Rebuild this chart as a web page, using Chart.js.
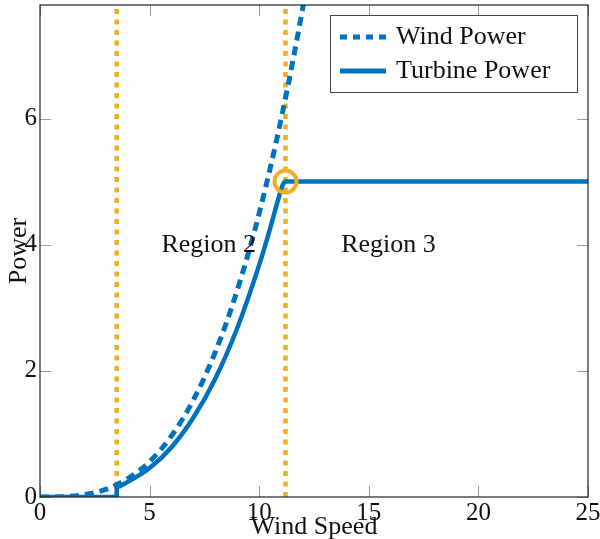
<!DOCTYPE html>
<html>
<head>
<meta charset="utf-8">
<script src="https://cdn.jsdelivr.net/npm/chart.js@4"></script>
<style>
  html, body { margin: 0; padding: 0; background: #fff; }
</style>
</head>
<body>
<canvas id="powerChart" width="600" height="539"></canvas>
<script>
// wind speed / power readings
const windSpeed = [0, 1, 2, 3, 4, 5, 6, 7, 8, 9, 10, 11, 12, 12.3];
const windPower = [0, 0.005, 0.036, 0.12, 0.29, 0.56, 0.97, 1.54, 2.3, 3.28, 4.5, 5.99, 7.78, 8.4];

const turbineSpeed = [0, 3.5, 3.5, 4, 5, 6, 7, 8, 9, 10, 10.5, 10.9, 11.05, 11.2, 25];
const turbinePower = [0, 0, 0.16, 0.24, 0.46, 0.79, 1.26, 1.88, 2.68, 3.68, 4.26, 4.76, 4.93, 5.0, 5.0];

const cutInSpeed = 3.5;
const ratedSpeed = 11.2;
const ratedPower = 5;

const xTicks = [0, 5, 10, 15, 20, 25];
const yTicks = [0, 2, 4, 6];
const yMax = 7.8;

const blue = "#0072BD";
const orange = "#EDB120";
const serif = '"Liberation Serif", "DejaVu Serif", serif';

const toPoints = (xs, ys) => xs.map((x, i) => ({ x: x, y: ys[i] }));

const framePlugin = {
  id: "frame",
  beforeDatasetsDraw(chart) {
    const { ctx, chartArea: a, scales } = chart;
    ctx.save();
    ctx.strokeStyle = "#9a9a9a";
    ctx.lineWidth = 1;
    xTicks.forEach((v) => {
      const px = Math.round(scales.x.getPixelForValue(v)) + 0.5;
      ctx.beginPath();
      ctx.moveTo(px, a.bottom);
      ctx.lineTo(px, a.bottom - 11);
      ctx.moveTo(px, a.top);
      ctx.lineTo(px, a.top + 11);
      ctx.stroke();
    });
    yTicks.forEach((v) => {
      const py = Math.round(scales.y.getPixelForValue(v)) + 0.5;
      ctx.beginPath();
      ctx.moveTo(a.left, py);
      ctx.lineTo(a.left + 11, py);
      ctx.moveTo(a.right, py);
      ctx.lineTo(a.right - 11, py);
      ctx.stroke();
    });
    ctx.restore();
  },
  afterDraw(chart) {
    const { ctx, chartArea: a, scales } = chart;
    ctx.save();
    ctx.strokeStyle = "#222";
    ctx.lineWidth = 1.2;
    ctx.strokeRect(a.left, a.top, a.right - a.left, a.bottom - a.top);

    ctx.fillStyle = "#111";
    ctx.font = "26px " + serif;
    ctx.textBaseline = "middle";
    ctx.textAlign = "center";
    ctx.fillText("Region 2", scales.x.getPixelForValue(7.7), scales.y.getPixelForValue(4));
    ctx.fillText("Region 3", scales.x.getPixelForValue(15.9), scales.y.getPixelForValue(4));

    // axis titles
    ctx.textBaseline = "alphabetic";
    ctx.fillText("Wind Speed", (a.left + a.right) / 2, 534);
    ctx.save();
    ctx.translate(26, (a.top + a.bottom) / 2);
    ctx.rotate(-Math.PI / 2);
    ctx.fillText("Power", 0, 0);
    ctx.restore();

    // legend
    const lx = 330, ly = 15, lw = 247, lh = 77;
    ctx.fillStyle = "#fff";
    ctx.fillRect(lx, ly, lw, lh);
    ctx.strokeStyle = "#444";
    ctx.lineWidth = 1;
    ctx.strokeRect(lx + 0.5, ly + 0.5, lw, lh);
    ctx.strokeStyle = blue;
    ctx.lineWidth = 5;
    ctx.setLineDash([7, 6]);
    ctx.beginPath();
    ctx.moveTo(340, 37);
    ctx.lineTo(386, 37);
    ctx.stroke();
    ctx.setLineDash([]);
    ctx.beginPath();
    ctx.moveTo(340, 71);
    ctx.lineTo(386, 71);
    ctx.stroke();
    ctx.fillStyle = "#111";
    ctx.textAlign = "left";
    ctx.textBaseline = "middle";
    ctx.fillText("Wind Power", 396, 37);
    ctx.fillText("Turbine Power", 396, 71);
    ctx.restore();
  },
};

const ctx = document.getElementById("powerChart");
new Chart(ctx, {
  type: "line",
  data: {
    datasets: [
      {
        label: "Rated",
        data: [{ x: ratedSpeed, y: ratedPower }],
        showLine: false,
        pointRadius: 11,
        pointBorderWidth: 4,
        pointBorderColor: orange,
        pointBackgroundColor: "rgba(0,0,0,0)",
      },
      {
        label: "Turbine Power",
        data: toPoints(turbineSpeed, turbinePower),
        borderColor: blue,
        borderWidth: 4.5,
        pointRadius: 0,
        cubicInterpolationMode: "monotone",
      },
      {
        label: "Wind Power",
        data: toPoints(windSpeed, windPower),
        borderColor: blue,
        borderWidth: 5,
        borderDash: [9, 6],
        pointRadius: 0,
        cubicInterpolationMode: "monotone",
      },
      {
        label: "Cut-in",
        data: [{ x: cutInSpeed, y: 0 }, { x: cutInSpeed, y: yMax }],
        borderColor: orange,
        borderWidth: 4.5,
        borderDash: [5, 5.5],
        pointRadius: 0,
      },
      {
        label: "Rated speed",
        data: [{ x: ratedSpeed, y: 0 }, { x: ratedSpeed, y: yMax }],
        borderColor: orange,
        borderWidth: 4.5,
        borderDash: [5, 5.5],
        pointRadius: 0,
      },
    ],
  },
  options: {
    responsive: false,
    animation: false,
    layout: {
      autoPadding: false,
      padding: { top: 5, right: 0, left: 0, bottom: 0 },
    },
    plugins: {
      legend: { display: false },
      tooltip: { enabled: false },
    },
    scales: {
      x: {
        type: "linear",
        min: 0,
        max: 25,
        afterFit: (s) => {
          s.height = 42;
          s.paddingLeft = 0;
          s.paddingRight = 12;
        },
        afterBuildTicks: (s) => { s.ticks = xTicks.map((v) => ({ value: v })); },
        grid: { display: false, drawTicks: false },
        border: { display: false },
        ticks: {
          color: "#111",
          padding: 1,
          font: { family: serif, size: 25 },
        },
      },
      y: {
        type: "linear",
        min: 0,
        max: yMax,
        afterFit: (s) => {
          s.width = 40;
          s.paddingTop = 0;
          s.paddingBottom = 0;
        },
        afterBuildTicks: (s) => { s.ticks = yTicks.map((v) => ({ value: v })); },
        grid: { display: false, drawTicks: false },
        border: { display: false },
        ticks: {
          color: "#111",
          padding: 3,
          font: { family: serif, size: 25 },
        },
      },
    },
  },
  plugins: [framePlugin],
});
</script>
</body>
</html>
